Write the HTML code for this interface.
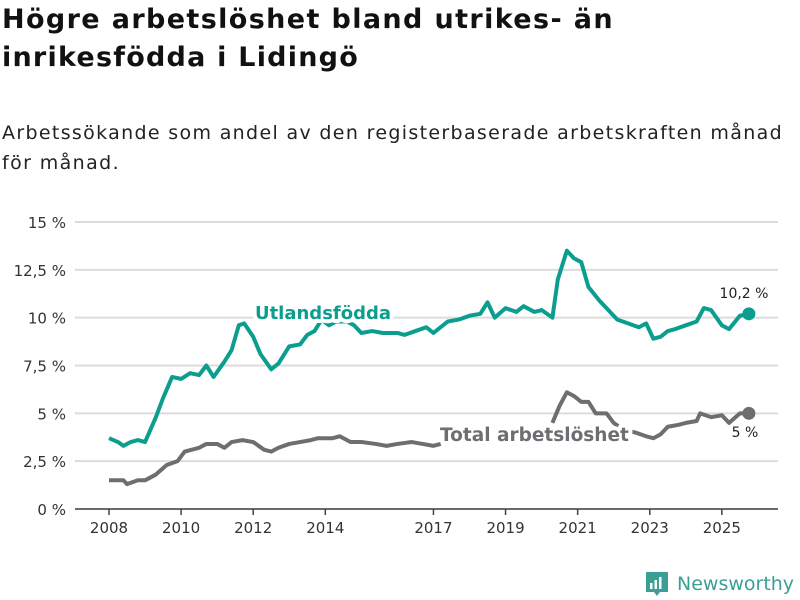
<!DOCTYPE html>
<html><head><meta charset="utf-8"><style>
body{margin:0;width:800px;height:600px;background:#fff;font-family:"DejaVu Sans","Liberation Sans",sans-serif;overflow:hidden;position:relative}
.t{position:absolute;left:2px;margin:0;white-space:nowrap;display:block}
.h{font-size:27px;font-weight:bold;color:#111}
.s{font-size:19px;color:#222}
svg{position:absolute;left:0;top:0}
</style></head><body>
<div>
<span class="t h fit" data-w="612" style="top:4px">Högre arbetslöshet bland utrikes- än</span>
<span class="t h fit" data-w="357" style="top:42px">inrikesfödda i Lidingö</span>
</div>
<div>
<span class="t s fit" data-w="781" style="top:122px">Arbetssökande som andel av den registerbaserade arbetskraften månad</span>
<span class="t s fit" data-w="118" style="top:152px">för månad.</span>
</div>
<svg id="chart" width="800" height="600"></svg>
<script>
document.querySelectorAll('.fit').forEach(e=>{const w=e.getBoundingClientRect().width;const n=e.textContent.length;e.style.letterSpacing=((+e.dataset.w-w)/n)+'px';});
const yTicks=[0,2.5,5,7.5,10,12.5,15];
const yTickLabels=["0 %","2,5 %","5 %","7,5 %","10 %","12,5 %","15 %"];
const xTicks=[2008,2010,2012,2014,2017,2019,2021,2023,2025];
const foreignDates=[2008.0,2008.25,2008.4,2008.6,2008.8,2009.0,2009.3,2009.5,2009.75,2010.0,2010.25,2010.5,2010.7,2010.9,2011.2,2011.4,2011.6,2011.75,2012.0,2012.2,2012.5,2012.7,2013.0,2013.3,2013.5,2013.7,2013.9,2014.1,2014.3,2014.6,2014.8,2015.0,2015.3,2015.6,2016.0,2016.2,2016.5,2016.8,2017.0,2017.4,2017.7,2018.0,2018.3,2018.5,2018.7,2019.0,2019.3,2019.5,2019.8,2020.0,2020.3,2020.45,2020.7,2020.9,2021.1,2021.3,2021.6,2021.8,2022.1,2022.4,2022.7,2022.9,2023.1,2023.3,2023.5,2023.7,2024.0,2024.3,2024.5,2024.7,2025.0,2025.2,2025.5,2025.75];
const foreignValues=[3.7,3.5,3.3,3.5,3.6,3.5,4.8,5.8,6.9,6.8,7.1,7.0,7.5,6.9,7.7,8.3,9.6,9.7,9.0,8.1,7.3,7.6,8.5,8.6,9.1,9.3,9.9,9.6,9.8,9.8,9.6,9.2,9.3,9.2,9.2,9.1,9.3,9.5,9.2,9.8,9.9,10.1,10.2,10.8,10.0,10.5,10.3,10.6,10.3,10.4,10.0,12.0,13.5,13.1,12.9,11.6,10.9,10.5,9.9,9.7,9.5,9.7,8.9,9.0,9.3,9.4,9.6,9.8,10.5,10.4,9.6,9.4,10.1,10.2];
const totalDates=[2008.0,2008.4,2008.5,2008.8,2009.0,2009.3,2009.6,2009.9,2010.1,2010.5,2010.7,2011.0,2011.2,2011.4,2011.7,2012.0,2012.3,2012.5,2012.7,2013.0,2013.3,2013.6,2013.8,2014.2,2014.4,2014.7,2015.0,2015.4,2015.7,2016.0,2016.4,2016.7,2017.0,2017.2,2018.5,2020.3,2020.5,2020.7,2020.9,2021.1,2021.3,2021.5,2021.8,2022.0,2022.3,2022.6,2022.9,2023.1,2023.3,2023.5,2023.8,2024.0,2024.3,2024.4,2024.7,2025.0,2025.2,2025.5,2025.75];
const totalValues=[1.5,1.5,1.3,1.5,1.5,1.8,2.3,2.5,3.0,3.2,3.4,3.4,3.2,3.5,3.6,3.5,3.1,3.0,3.2,3.4,3.5,3.6,3.7,3.7,3.8,3.5,3.5,3.4,3.3,3.4,3.5,3.4,3.3,3.4,null,4.5,5.4,6.1,5.9,5.6,5.6,5.0,5.0,4.5,4.1,4.0,3.8,3.7,3.9,4.3,4.4,4.5,4.6,5.0,4.8,4.9,4.5,5.0,5.0];
const NS="http://www.w3.org/2000/svg";
const svg=document.getElementById('chart');
const X=d=>109+(d-2008)*36.05;
const Y=v=>509-v*287/15;
function mk(t,a,p){const e=document.createElementNS(NS,t);for(const k in a)e.setAttribute(k,a[k]);(p||svg).appendChild(e);return e;}
yTicks.forEach((v,i)=>{
 const l=mk('line',{x1:75,x2:778,y1:Y(v),y2:Y(v),stroke:'#dcdcdc','stroke-width':2});
 
 
 const t=mk('text',{x:66,y:Y(v)+6,'text-anchor':'end','font-size':15,fill:'#333'});
 t.textContent=yTickLabels[i];
 
 
});
const ax=mk('line',{x1:75,x2:778,y1:509,y2:509,stroke:'#444','stroke-width':1.5});


xTicks.forEach(d=>{
 const tk=mk('line',{x1:X(d),x2:X(d),y1:509,y2:515,stroke:'#444','stroke-width':1.5});
 
 
 const t=mk('text',{x:X(d),y:533,'text-anchor':'middle','font-size':15,fill:'#333'});
 t.textContent=d;
 
 
});
function line(ds,vs,col,name){
 let d='',pen=false;
 ds.forEach((x,i)=>{if(vs[i]==null){pen=false;return;}d+=(pen?'L':'M')+X(x)+','+Y(vs[i]);pen=true;});
 const p=mk('path',{d:d,fill:'none',stroke:col,'stroke-width':4,'stroke-linejoin':'round'});
 
 
 const n=ds.length-1;
 const c=mk('circle',{cx:X(ds[n]),cy:Y(vs[n]),r:6.5,fill:col});
 
 
}
line(totalDates,totalValues,'#6e6d72','total-line');
line(foreignDates,foreignValues,'#0b9e8f','utlandsfodda-line');
function lbl(x,y,txt,col,name,size,weight,anchor){
 const t=mk('text',{x:x,y:y,'font-size':size,'font-weight':weight,fill:col,'text-anchor':anchor,stroke:'#fff','stroke-width':weight=='bold'?8:0,'paint-order':'stroke','stroke-linejoin':'round'});
 t.textContent=txt;
 
 
}
lbl(323,319,'Utlandsfödda','#0b9e8f','utlandsfodda-label',18,'bold','middle');
lbl(440,441,'Total arbetslöshet','#6e6d72','total-label',18.5,'bold','start');
lbl(744,298,'10,2 %','#222','utlandsfodda-value-label',14,'normal','middle');
lbl(745,437,'5 %','#222','total-value-label',14,'normal','middle');
const g=mk('g',{});


mk('path',{d:'M646 572 h22 v20 h-8 l-3 4 l-3 -4 h-8 z',fill:'#3a9f94'},g);
mk('rect',{x:650,y:583,width:2.5,height:6,fill:'#fff'},g);
mk('rect',{x:654.5,y:580,width:2.5,height:9,fill:'#fff'},g);
mk('rect',{x:659,y:577,width:2.5,height:12,fill:'#fff'},g);
const lt=mk('text',{x:677,y:590,'font-size':19,fill:'#3a9f94'},g);
lt.textContent='Newsworthy';
</script>
</body></html>
